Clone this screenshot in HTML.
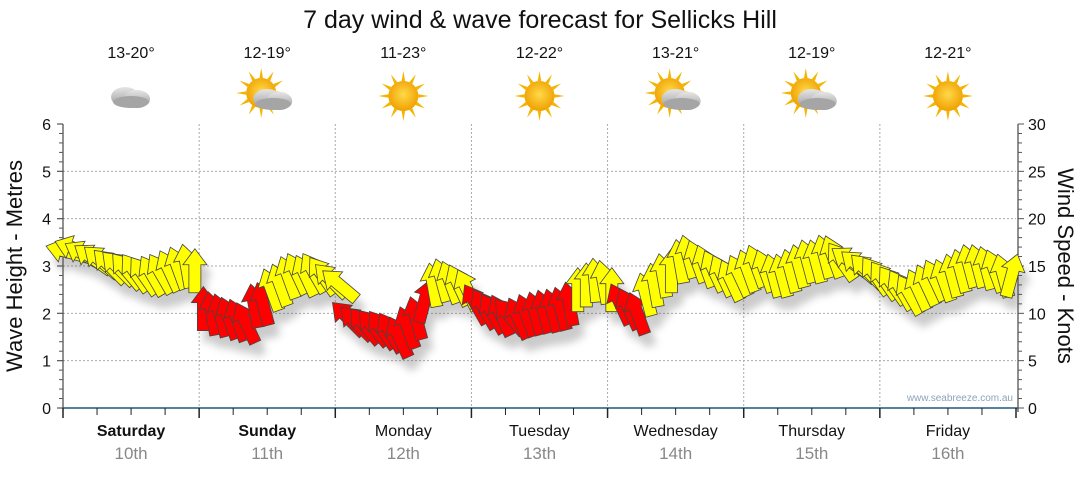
<!DOCTYPE html>
<html><head><meta charset="utf-8">
<style>
body{margin:0;background:#fff;width:1080px;height:475px;overflow:hidden;font-family:"Liberation Sans",sans-serif;}
svg text{font-family:"Liberation Sans",sans-serif;}
</style></head>
<body>
<svg id="chart" width="1080" height="475" viewBox="0 0 1080 475" xmlns="http://www.w3.org/2000/svg">
<defs>
<filter id="sh" x="-50%" y="-50%" width="200%" height="200%"><feGaussianBlur stdDeviation="4"/></filter>
<radialGradient id="sunG" cx="50%" cy="45%" r="55%"><stop offset="0" stop-color="#ffd94a"/><stop offset="1" stop-color="#f0a000"/></radialGradient>
<linearGradient id="cloudG" x1="0" y1="0" x2="0" y2="1"><stop offset="0" stop-color="#e6e6e6"/><stop offset="1" stop-color="#9a9a9a"/></linearGradient>
</defs>
<text x="540" y="28" text-anchor="middle" font-size="25" fill="#111">7 day wind &amp; wave forecast for Sellicks Hill</text>
<g id="grid"></g>
<g id="axes"></g>
<g id="shadows" filter="url(#sh)" opacity="0.3"></g>
<g id="arrows"></g>
<g id="header"></g>
<text transform="translate(22,266) rotate(-90)" text-anchor="middle" font-size="22" fill="#111">Wave Height - Metres</text>
<text transform="translate(1058,266) rotate(90)" text-anchor="middle" font-size="22" fill="#111">Wind Speed - Knots</text>
<text x="1013" y="401" text-anchor="end" font-size="10" fill="#8fa3b8">www.seabreeze.com.au</text>
</svg>
<script>
const dayNames=["Saturday","Sunday","Monday","Tuesday","Wednesday","Thursday","Friday"];
const dayDates=["10th","11th","12th","13th","14th","15th","16th"];
const dayTemps=["13-20°","12-19°","11-23°","12-22°","13-21°","12-19°","12-21°"];
const dayIcons=["cloud","suncloud","sun","sun","suncloud","suncloud","sun"];
const leftTicks=[0,1,2,3,4,5,6];
const rightTicks=[0,5,10,15,20,25,30];
const windSpeed=[
16.5,16.8,16.2,15.8,15.5,15.0,14.8,14.5,14.3,14.0,14.0,14.2,14.5,14.8,15.0,14.5,
10.5,10.0,9.8,9.5,9.3,9.0,10.8,11.0,12.5,13.0,13.8,14.2,14.0,14.3,14.0,13.5,
13.0,9.5,9.0,8.7,8.5,8.3,8.0,7.5,8.5,9.5,11.3,13.0,13.5,13.3,13.0,12.5,
11.0,10.5,10.0,9.8,9.7,9.5,9.8,10.0,10.2,10.3,10.5,11.0,12.5,13.0,13.5,13.3,
12.5,11.0,10.5,10.0,12.0,13.0,14.0,14.5,15.5,16.0,15.5,15.0,14.5,14.0,13.5,14.0,
14.5,15.0,14.5,14.0,14.0,14.5,15.0,15.5,15.5,16.0,16.0,15.5,15.5,15.0,14.5,14.0,
13.5,13.0,12.5,12.0,12.5,13.0,13.5,13.5,14.0,14.5,15.0,15.0,14.8,14.5,14.0,14.0];
const windDir=[
-75,-70,-60,-55,-50,-45,-45,-40,-35,-35,-30,-30,-25,-20,-10,0,
0,-10,-15,-20,-20,-25,-10,-15,-20,-20,-20,-25,-25,-30,-35,-45,
-50,-45,-45,-40,-40,-35,-30,-25,-20,-15,15,-10,-15,-20,-25,-25,
-30,-30,-30,-25,-40,-25,-20,-15,-15,-15,-15,-10,0,0,-5,-10,
0,-25,-25,-20,-15,-10,-10,0,-10,-15,-20,-20,-25,-25,-25,-25,
-20,-20,-20,-15,-15,-15,-15,-15,-15,-15,-20,-35,-55,-50,-45,-35,
-35,-35,-30,-30,-25,-25,-25,-20,-15,-15,-15,-15,-15,-20,-15,15];

const NS="http://www.w3.org/2000/svg";
const X0=63,X1=1016,Y0=408,Y1=124;
const nDays=dayNames.length, dayW=(X1-X0)/nDays;
const xIdx=i=>X0+(i+0.5)*(X1-X0)/windSpeed.length;
const yM=v=>Y0-v*(Y0-Y1)/6;
const yK=v=>Y0-v*(Y0-Y1)/30;
function mk(tag,attrs,parent){const e=document.createElementNS(NS,tag);for(const k in attrs)e.setAttribute(k,attrs[k]);parent.appendChild(e);return e;}
const grid=document.getElementById('grid'),axes=document.getElementById('axes');
leftTicks.forEach(v=>{if(v>0&&v<6){const l=mk('line',{x1:X0,x2:X1,y1:yM(v),y2:yM(v),stroke:'#aaa','stroke-dasharray':'2,2'},grid);

}});
for(let d=1;d<nDays;d++){const x=X0+d*dayW;const l=mk('line',{x1:x,x2:x,y1:Y1,y2:Y0,stroke:'#aaa','stroke-dasharray':'2,2'},grid);

}
mk('line',{x1:X0,x2:X0,y1:Y1,y2:Y0+4,stroke:'#222'},axes);
mk('line',{x1:X1+2,x2:X1+2,y1:Y1,y2:Y0+4,stroke:'#222'},axes);
mk('line',{x1:X0,x2:X1+2,y1:Y0,y2:Y0,stroke:'#1f5a7a','stroke-width':1.5},axes);
for(let v=0;v<=6.001;v+=0.2){const y=yM(v);const major=Math.abs(v-Math.round(v))<0.01;mk('line',{x1:X0-(major?6:4),x2:X0,y1:y,y2:y,stroke:'#555','stroke-width':major?1.2:1},axes);}
leftTicks.forEach(v=>{const t=mk('text',{x:X0-12,y:yM(v)+6,'text-anchor':'end','font-size':16,fill:'#111'},axes);t.textContent=v;

});
for(let v=0;v<=30;v++){const y=yK(v);const major=v%5==0;mk('line',{x1:X1+2,x2:X1+2+(major?6:4),y1:y,y2:y,stroke:'#555'},axes);}
rightTicks.forEach(v=>{const t=mk('text',{x:X1+12,y:yK(v)+6,'font-size':16,fill:'#111'},axes);t.textContent=v;

});
for(let k=0;k<=nDays*4;k++){const x=X0+k*dayW/4;const major=k%4==0;mk('line',{x1:x,x2:x,y1:Y0,y2:Y0+(major?10:7),stroke:'#222','stroke-width':major?1.5:1},axes);}
const hdr=document.getElementById('header');
function icon(kind,cx,cy,g){
 if(kind!=='cloud'){const sx=kind==='sun'?cx:cx-6,sy=kind==='sun'?cy:cy-3;
  for(let a=0;a<360;a+=30){const r=a*Math.PI/180;mk('polygon',{points:`${sx+Math.cos(r-0.12)*15},${sy+Math.sin(r-0.12)*15} ${sx+Math.cos(r)*25},${sy+Math.sin(r)*25} ${sx+Math.cos(r+0.12)*15},${sy+Math.sin(r+0.12)*15}`,fill:'#f2b600'},g);}
  mk('circle',{cx:sx,cy:sy,r:15,fill:'url(#sunG)'},g);}
 if(kind!=='sun'){const ox=kind==='cloud'?cx:cx+6,oy=kind==='cloud'?cy:cy+2;
  mk('ellipse',{cx:ox-6,cy:oy+1,rx:14,ry:10,fill:'url(#cloudG)'},g);
  mk('ellipse',{cx:ox+6,cy:oy+3,rx:13,ry:9,fill:'url(#cloudG)'},g);
  mk('ellipse',{cx:ox,cy:oy+6,rx:18,ry:6,fill:'#a5a5a5'},g);}
}
for(let d=0;d<nDays;d++){
 const cx=X0+(d+0.5)*dayW;
 const g=mk('g',{},hdr);
 
 
 const t=mk('text',{x:cx,y:58,'text-anchor':'middle','font-size':16,fill:'#111'},g);t.textContent=dayTemps[d];
 
 
 const ig=mk('g',{},g);
 
 
 icon(dayIcons[d],cx,96,ig);
 const n=mk('text',{x:cx,y:436,'text-anchor':'middle','font-size':16,fill:'#111','font-weight':d<2?'bold':'normal'},g);n.textContent=dayNames[d];
 
 
 const dt=mk('text',{x:cx,y:459,'text-anchor':'middle','font-size':17,fill:'#888'},g);dt.textContent=dayDates[d];
 
 
}
const arr=document.getElementById('arrows'),shd=document.getElementById('shadows');
const shape="0,-22 12,-6 6,-6 6,22 -6,22 -6,-6 -12,-6";
for(let i=0;i<windSpeed.length;i++){
 const x=xIdx(i),y=yK(windSpeed[i]);
 mk('polygon',{points:shape,fill:'#555',transform:`translate(${x+6},${y+12}) rotate(${windDir[i]})`},shd);
 const p=mk('polygon',{points:shape,fill:windSpeed[i]<11.5?'#ff0000':'#ffff00',stroke:'#444','stroke-width':0.8,transform:`translate(${x},${y}) rotate(${windDir[i]})`},arr);
 
 
}
</script>
</body></html>
